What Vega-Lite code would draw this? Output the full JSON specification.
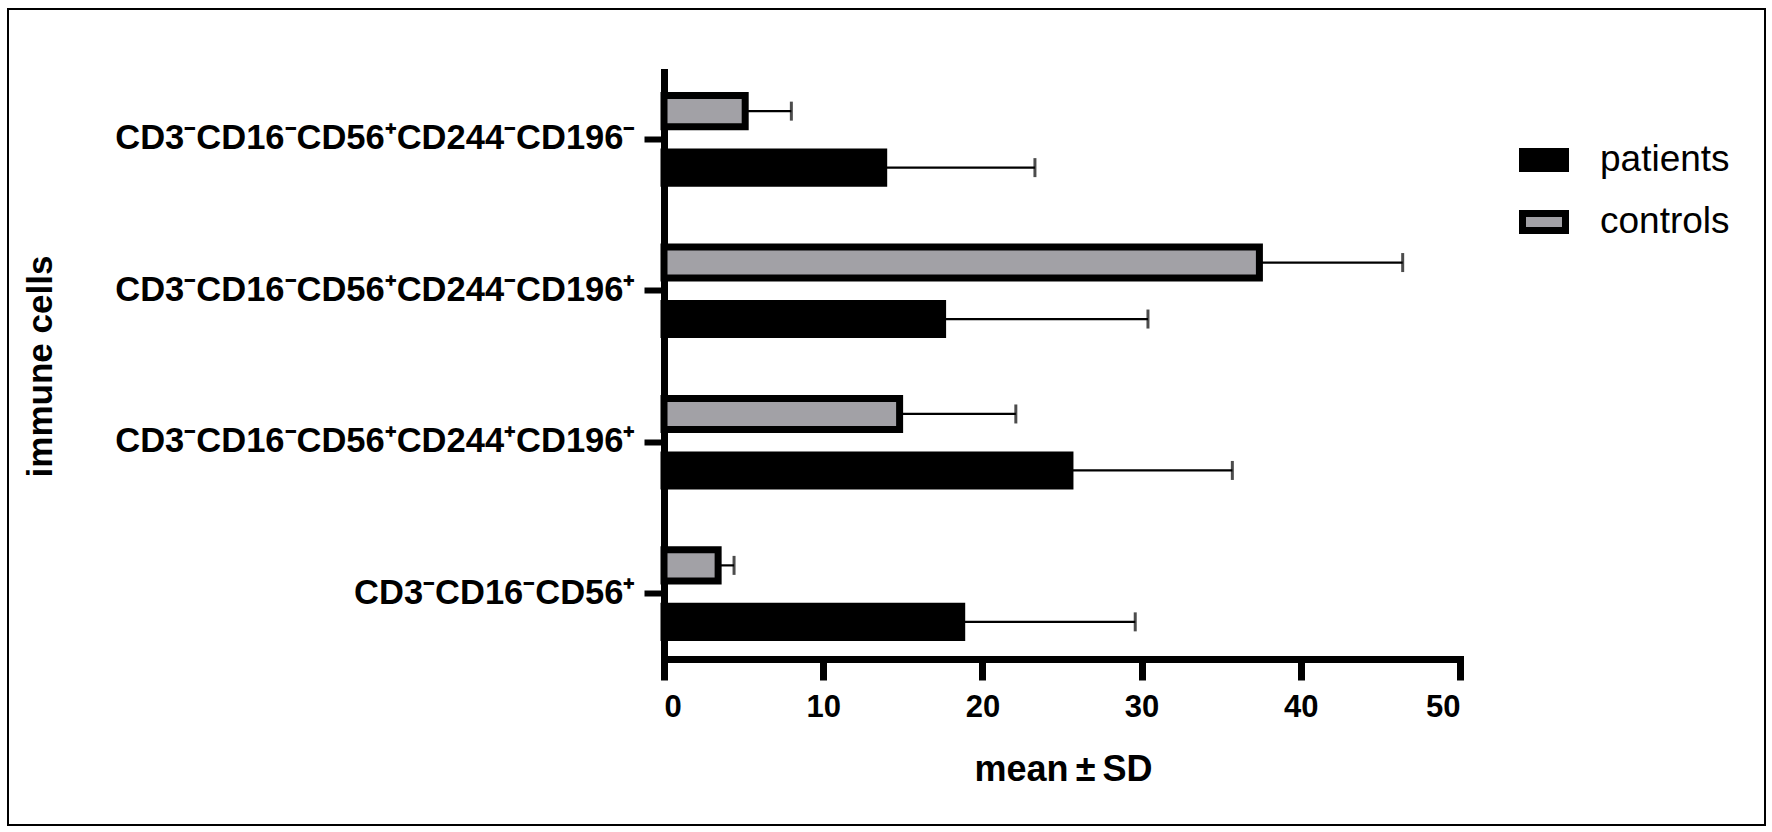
{
  "$schema": "https://vega.github.io/schema/vega-lite/v6.json",
  "autosize": "none",
  "padding": {"left": 8, "top": 9, "right": 7, "bottom": 7},
  "width": 1757,
  "height": 816,
  "background": "white",
  "data": {
    "values": [
      {"cells": "CD3⁻CD16⁻CD56⁺CD244⁻CD196⁻", "group": "controls", "mean": 5.1, "upper": 8.0},
      {"cells": "CD3⁻CD16⁻CD56⁺CD244⁻CD196⁻", "group": "patients", "mean": 13.8, "upper": 23.3},
      {"cells": "CD3⁻CD16⁻CD56⁺CD244⁻CD196⁺", "group": "controls", "mean": 37.4, "upper": 46.4},
      {"cells": "CD3⁻CD16⁻CD56⁺CD244⁻CD196⁺", "group": "patients", "mean": 17.5, "upper": 30.4},
      {"cells": "CD3⁻CD16⁻CD56⁺CD244⁺CD196⁺", "group": "controls", "mean": 14.8, "upper": 22.1},
      {"cells": "CD3⁻CD16⁻CD56⁺CD244⁺CD196⁺", "group": "patients", "mean": 25.5, "upper": 35.7},
      {"cells": "CD3⁻CD16⁻CD56⁺", "group": "controls", "mean": 3.4, "upper": 4.4},
      {"cells": "CD3⁻CD16⁻CD56⁺", "group": "patients", "mean": 18.7, "upper": 29.6}
    ]
  },
  "encoding": {
    "y": {
      "field": "cells",
      "type": "nominal",
      "sort": null,
      "scale": {"range": [63, 652], "paddingInner": 0.38, "paddingOuter": 0.135},
      "axis": {
        "title": "immune cells",
        "offset": -656,
        "domainColor": "black",
        "domainWidth": 7,
        "domainCap": "square",
        "tickColor": "black",
        "tickWidth": 6,
        "tickSize": 20,
        "labelPadding": 9,
        "labelFontSize": 34.5,
        "labelFontWeight": "bold",
        "labelColor": "black",
        "labelLimit": 800,
        "titleFontSize": 35,
        "titleFontWeight": "bold",
        "titleColor": "black",
        "titleBaseline": "alphabetic",
        "titleX": -613,
        "titleY": 357
      }
    },
    "yOffset": {
      "field": "group",
      "type": "nominal",
      "scale": {"domain": ["controls", "patients"], "paddingInner": 0.45, "paddingOuter": 0.056}
    }
  },
  "layer": [
    {
      "mark": {"type": "bar", "stroke": "black", "strokeWidth": 7, "strokeJoin": "miter"},
      "encoding": {
        "x": {
          "field": "mean",
          "type": "quantitative",
          "scale": {"domain": [0, 50], "nice": false, "range": [656, 1452]},
          "axis": {
            "title": "mean\u2009±\u2009SD",
            "values": [0, 10, 20, 30, 40, 50],
            "offset": -166,
            "grid": false,
            "domainColor": "black",
            "domainWidth": 7,
            "domainCap": "square",
            "tickColor": "black",
            "tickWidth": 7,
            "tickSize": 21,
            "labelPadding": 12,
            "labelFontSize": 31,
            "labelFontWeight": "bold",
            "labelColor": "black",
            "titleFontSize": 36,
            "titleFontWeight": "bold",
            "titleColor": "black",
            "titleBaseline": "alphabetic",
            "titleX": 1055,
            "titleY": 121
          }
        },
        "fill": {
          "field": "group",
          "type": "nominal",
          "scale": {"domain": ["patients", "controls"], "range": ["#000000", "#a2a1a6"]},
          "legend": {
            "title": null,
            "orient": "none",
            "legendX": 1511,
            "legendY": 126,
            "symbolType": "M-1,-0.4H1V0.4H-1Z",
            "symbolSize": 1849,
            "symbolStrokeColor": "black",
            "symbolStrokeWidth": 7,
            "symbolOpacity": 1,
            "labelFontSize": 37,
            "labelColor": "black",
            "labelOffset": 31,
            "rowPadding": 14
          }
        }
      }
    },
    {
      "mark": {"type": "rule", "color": "black", "strokeWidth": 2.2},
      "encoding": {
        "x": {"field": "mean", "type": "quantitative"},
        "x2": {"field": "upper"}
      }
    },
    {
      "mark": {"type": "tick", "color": "black", "thickness": 3, "size": 19},
      "encoding": {
        "x": {"field": "upper", "type": "quantitative"}
      }
    }
  ],
  "config": {
    "font": "Liberation Sans",
    "view": {"stroke": "black", "strokeWidth": 2, "fill": "white"}
  }
}
